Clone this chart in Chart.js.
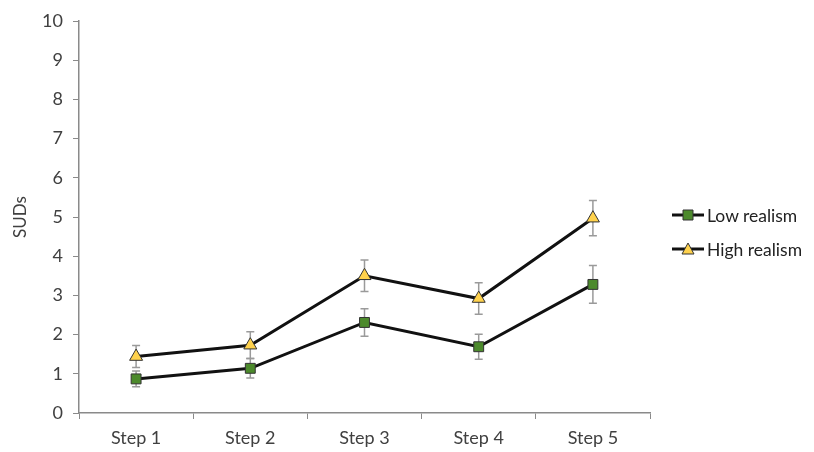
<!DOCTYPE html>
<html lang="en">
<head>
  <meta charset="UTF-8">
  <title>SUDs by step</title>
  <script src="https://cdn.jsdelivr.net/npm/chart.js"></script>
  <style>
    body { margin: 0; background: #fff; font-family: Lato, sans-serif; }
    .wrap { position: relative; width: 814px; height: 452px; }
    .legend { position: absolute; left: 672px; top: 198px; color: #222; font-size: 17.5px; }
    .legend div { display: flex; align-items: center; height: 34px; }
    .legend canvas { margin-right: 3px; }
  </style>
</head>
<body>
  <div class="wrap">
    <canvas id="chart" width="814" height="452"></canvas>
    <div class="legend" id="legend"></div>
  </div>
  <script>
    const steps = ['Step 1', 'Step 2', 'Step 3', 'Step 4', 'Step 5'];
    const lowRealism = [0.87, 1.14, 2.31, 1.69, 3.28];
    const lowRealismErr = [0.2, 0.25, 0.35, 0.32, 0.48];
    const highRealism = [1.44, 1.73, 3.5, 2.92, 4.97];
    const highRealismErr = [0.28, 0.34, 0.4, 0.4, 0.45];

    const green = '#4c8a2c';
    const yellow = '#ffd24d';
    const edge = '#333';

    // draws the error bars from each dataset's err array
    const errorBars = {
      id: 'errorBars',
      beforeDatasetsDraw(chart) {
        const ctx = chart.ctx;
        const y = chart.scales.y;
        ctx.save();
        ctx.strokeStyle = '#9a9a9a';
        ctx.lineWidth = 1.5;
        chart.data.datasets.forEach((ds, i) => {
          chart.getDatasetMeta(i).data.forEach((pt, j) => {
            const top = y.getPixelForValue(ds.data[j] + ds.err[j]);
            const bot = y.getPixelForValue(ds.data[j] - ds.err[j]);
            ctx.beginPath();
            ctx.moveTo(pt.x, top); ctx.lineTo(pt.x, bot);
            ctx.moveTo(pt.x - 4, top); ctx.lineTo(pt.x + 4, top);
            ctx.moveTo(pt.x - 4, bot); ctx.lineTo(pt.x + 4, bot);
            ctx.stroke();
          });
        });
        ctx.restore();
      }
    };

    new Chart(document.getElementById('chart'), {
      type: 'line',
      data: {
        labels: steps,
        datasets: [
          {
            label: 'Low realism', data: lowRealism, err: lowRealismErr,
            borderColor: '#111', borderWidth: 3,
            pointStyle: 'rect', pointRadius: 7, pointBackgroundColor: green,
            pointBorderColor: edge, pointBorderWidth: 1
          },
          {
            label: 'High realism', data: highRealism, err: highRealismErr,
            borderColor: '#111', borderWidth: 3,
            pointStyle: 'triangle', pointRadius: 7.5, pointBackgroundColor: yellow,
            pointBorderColor: edge, pointBorderWidth: 1
          }
        ]
      },
      options: {
        responsive: false,
        animation: false,
        layout: { padding: { top: 21, right: 164, bottom: 0, left: 0 } },
        plugins: { legend: { display: false }, tooltip: { enabled: false } },
        scales: {
          x: {
            offset: true,
            grid: { offset: true, drawOnChartArea: false, drawTicks: true, tickLength: 6, color: '#8a8a8a' },
            border: { color: '#8a8a8a', width: 1.5 },
            ticks: { color: '#404040', font: { family: 'Lato', size: 18 }, padding: 8 },
            afterFit: s => { s.height = 39; }
          },
          y: {
            min: 0, max: 10,
            grid: { drawOnChartArea: false, drawTicks: true, tickLength: 6, color: '#8a8a8a' },
            border: { color: '#8a8a8a', width: 1.5 },
            ticks: { stepSize: 1, color: '#404040', font: { family: 'Lato', size: 18 }, padding: 10 },
            title: { display: true, text: 'SUDs', color: '#404040', font: { family: 'Lato', size: 17 }, padding: { top: 10, bottom: 0 } },
            afterFit: s => { s.width = 79; }
          }
        }
      },
      plugins: [errorBars]
    });

    // html legend: short line with the series marker
    function icon(shape, fill) {
      const c = document.createElement('canvas');
      c.width = 32; c.height = 16;
      const g = c.getContext('2d');
      g.strokeStyle = '#111'; g.lineWidth = 3;
      g.beginPath(); g.moveTo(0, 8); g.lineTo(32, 8); g.stroke();
      g.fillStyle = fill; g.strokeStyle = edge; g.lineWidth = 1;
      g.beginPath();
      if (shape === 'rect') g.rect(11, 3, 10, 10);
      else { g.moveTo(16, 2); g.lineTo(22, 13); g.lineTo(10, 13); g.closePath(); }
      g.fill(); g.stroke();
      return c;
    }
    const legend = document.getElementById('legend');
    [['Low realism', 'rect', green], ['High realism', 'tri', yellow]].forEach(([t, s, f]) => {
      const row = document.createElement('div');
      row.appendChild(icon(s, f));
      row.appendChild(document.createTextNode(t));
      legend.appendChild(row);
    });
  </script>
</body>
</html>
